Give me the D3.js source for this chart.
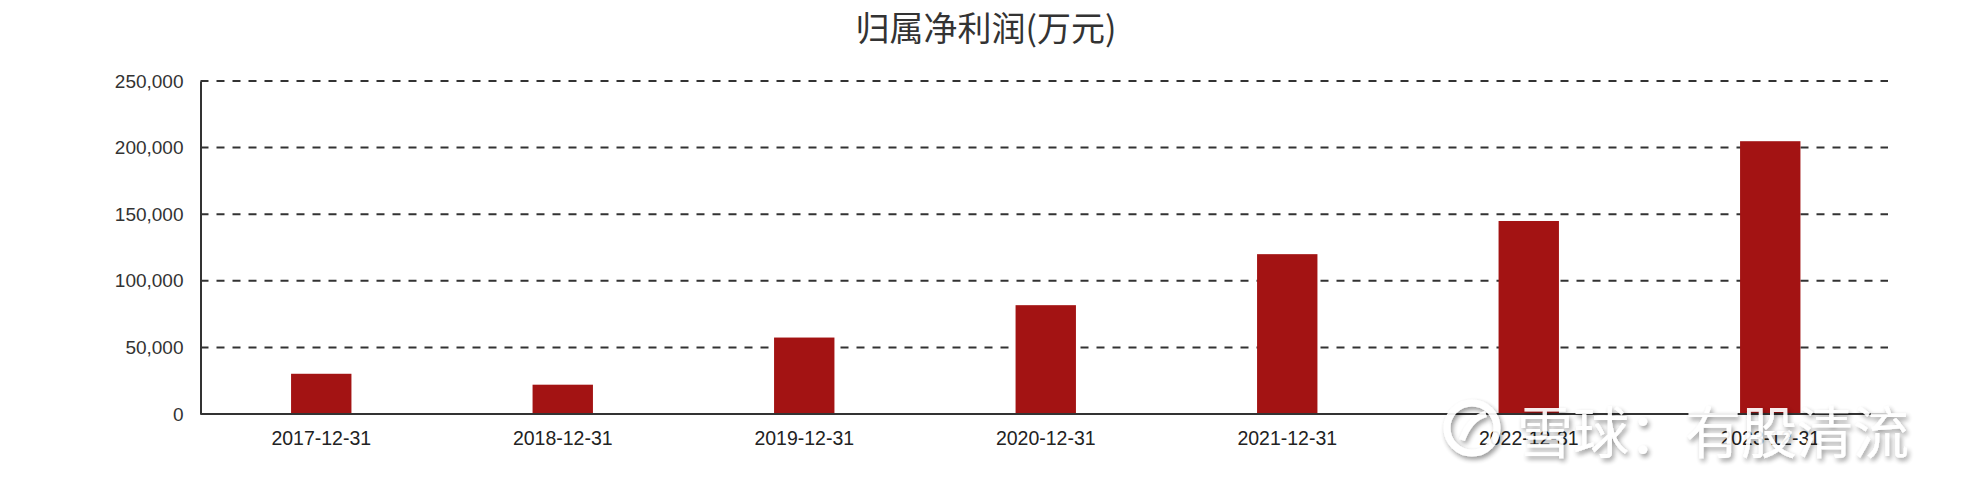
<!DOCTYPE html>
<html>
<head>
<meta charset="utf-8">
<script src="https://cdn.jsdelivr.net/npm/d3@7/dist/d3.min.js"></script>
<style>
  html, body { margin: 0; padding: 0; background: #fff; }
  svg { display: block; }
</style>
</head>
<body>
<svg id="chart" width="1972" height="494"></svg>
<script>
const title = "归属净利润(万元)";
const categories = ["2017-12-31", "2018-12-31", "2019-12-31", "2020-12-31", "2021-12-31", "2022-12-31", "2023-12-31"];
const values = [30200, 22000, 57400, 81700, 120000, 144900, 204800];
const yTicks = [0, 50000, 100000, 150000, 200000, 250000];
const watermark = "雪球：有股清流";

(function () {
const svg = d3.select("#chart");
const W = 1972, H = 494;
const plotLeft = 200.5, plotRight = 1888, plotTop = 81, plotBottom = 414;

const x = d3.scaleBand().domain(categories).range([plotLeft, 1891]).padding(0);
const y = d3.scaleLinear().domain([0, 250000]).range([plotBottom, plotTop]);
const fmt = d3.format(",");

// title
svg.append("text")
  .attr("x", W / 2).attr("y", 41)
  .attr("text-anchor", "middle")
  .attr("font-family", "'Noto Sans CJK SC', 'Noto Sans', sans-serif")
  .attr("font-size", 34)
  .attr("fill", "#333")
  .text(title);

// gridlines
svg.append("g").selectAll("line")
  .data(yTicks.filter(d => d > 0))
  .join("line")
  .attr("x1", plotLeft).attr("x2", plotRight)
  .attr("y1", d => y(d)).attr("y2", d => y(d))
  .attr("stroke", "#333")
  .attr("stroke-width", 2)
  .attr("stroke-dasharray", "8,8");

// bars
const bw = x.bandwidth() * 0.25;
svg.append("g").selectAll("rect")
  .data(values)
  .join("rect")
  .attr("x", (d, i) => x(categories[i]) + x.bandwidth() / 2 - bw / 2)
  .attr("y", d => y(d))
  .attr("width", bw)
  .attr("height", d => plotBottom - y(d))
  .attr("fill", "#a31313");

// y axis
const yAxis = d3.axisLeft(y).tickValues(yTicks).tickFormat(fmt).tickSize(0).tickPadding(17);
const gy = svg.append("g").attr("transform", `translate(${plotLeft},0)`).call(yAxis);
gy.select(".domain").attr("stroke", "#333").attr("stroke-width", 2);
gy.selectAll("text")
  .attr("font-family", "'Liberation Sans', Arial, sans-serif")
  .attr("font-size", 19)
  .attr("fill", "#333");

// x axis
const xAxis = d3.axisBottom(x).tickSize(0).tickPadding(17);
const gx = svg.append("g").attr("transform", `translate(0,${plotBottom})`).call(xAxis);
gx.select(".domain").attr("d", `M${plotLeft},0H${plotRight}`).attr("stroke", "#333").attr("stroke-width", 2);
gx.selectAll("text")
  .attr("font-family", "'Liberation Sans', Arial, sans-serif")
  .attr("font-size", 19.5)
  .attr("fill", "#222");

// watermark
const defs = svg.append("defs");
const f = defs.append("filter").attr("id", "shadow").attr("x", "-20%").attr("y", "-20%").attr("width", "140%").attr("height", "140%");
f.append("feDropShadow").attr("dx", 2).attr("dy", 3).attr("stdDeviation", 2.5).attr("flood-color", "#000").attr("flood-opacity", 0.45);

const wm = svg.append("g").attr("filter", "url(#shadow)").attr("opacity", 0.92);
wm.append("circle").attr("cx", 1472).attr("cy", 428).attr("r", 25)
  .attr("fill", "none").attr("stroke", "#fff").attr("stroke-width", 7);
wm.append("path").attr("d", "M1462,440 Q1470,418 1486,414")
  .attr("fill", "none").attr("stroke", "#fff").attr("stroke-width", 6);
wm.append("text")
  .attr("x", 1517).attr("y", 453)
  .attr("font-family", "'Noto Sans CJK SC', sans-serif")
  .attr("font-size", 56)
  .attr("fill", "#fff")
  .text(watermark);
})();
</script>
</body>
</html>
